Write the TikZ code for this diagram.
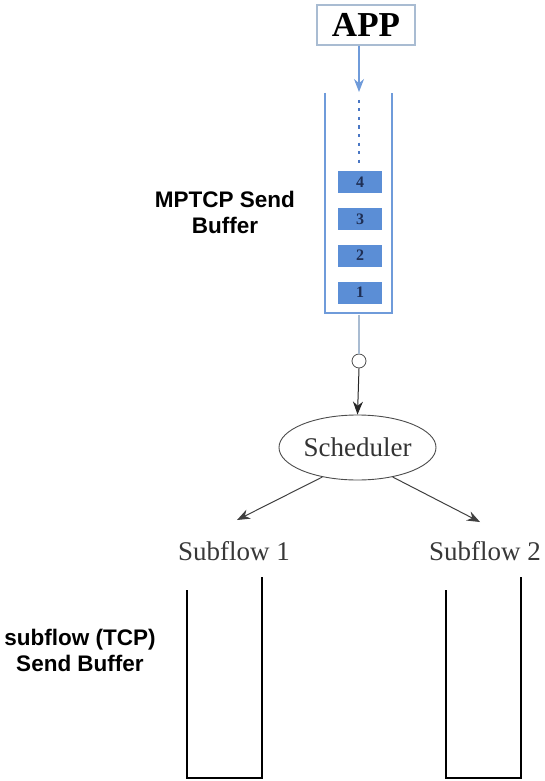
\documentclass[tikz,border=0pt]{standalone}
\usepackage{fontspec}
\setmainfont{Liberation Serif}
\newfontfamily\labelfont{Liberation Sans}
\usetikzlibrary{shapes.geometric, arrows.meta}
\definecolor{bufblu}{HTML}{6F9BDA}
\definecolor{bloccoblu}{HTML}{5B8ED6}
\definecolor{grigioblu}{HTML}{A9BCD2}
\definecolor{puntini}{HTML}{4A77C4}
\definecolor{testoblu}{HTML}{1F2F55}

\begin{document}
\begin{tikzpicture}[x=1pt, y=-1pt, >={Stealth[length=13pt, width=10pt]},
    blocco/.style={rectangle, fill=bloccoblu, minimum width=44pt, minimum height=22pt,
        inner sep=0pt, text=testoblu, font=\bfseries\fontsize{16}{16}\selectfont},
    etichetta/.style={align=center, font=\labelfont\bfseries\fontsize{22.5}{26}\selectfont},
    flusso/.style={anchor=base, inner sep=0pt, text=black!78, font=\fontsize{27}{27}\selectfont}]
    \useasboundingbox (0,0) rectangle (544,781);

    % Applicazione in alto
    \node[draw=grigioblu, line width=1.2pt, minimum width=98pt, minimum height=40pt,
        inner sep=0pt, font=\bfseries\fontsize{35}{35}\selectfont] (app) at (366,25) {APP};
    \coordinate (bufftop) at (359,92);
    \draw[->, bufblu, line width=1.2pt] (app.south -| bufftop) -- (bufftop);

    % Buffer di invio MPTCP
    \draw[bufblu, line width=2.6pt] (325,93) -- (325,313) -- (392,313) -- (392,93);
    \draw[puntini, line width=2.6pt, dash pattern=on 3pt off 5.5pt] (359,100) -- (359,165);

    % Segmenti nel buffer
    \node[blocco] (b4) at (360,182) {4};
    \node[blocco] (b3) at (360,219) {3};
    \node[blocco] (b2) at (360,255.5) {2};
    \node[blocco] (b1) at (360,292.5) {1};

    \node[etichetta] (mptcp) at (225,212) {MPTCP Send\\Buffer};

    % Punto di uscita e scheduler
    \coordinate (buffbot) at (359,314.5);
    \node[circle, draw=black!70, line width=0.8pt, minimum size=14pt, inner sep=0pt] (joint) at (359,361) {};
    \draw[grigioblu, line width=1.2pt] (buffbot) -- (joint.north);
    \node[ellipse, draw=black!70, line width=0.9pt, minimum width=157pt, minimum height=65pt,
        inner sep=0pt, text=black!80, font=\fontsize{27}{27}\selectfont] (sched) at (357.5,447.5) {Scheduler};
    \draw[->, black!85, line width=1pt] (joint.south) -- (sched.north);

    % Sottoflussi
    \node[flusso] (sf1) at (234,560) {Subflow 1};
    \node[flusso] (sf2) at (485,560) {Subflow 2};
    \coordinate (sf1in) at (237,520);
    \coordinate (sf2in) at (480,522);
    \draw[->, black!75, line width=1pt] (sched.220) -- (sf1in);
    \draw[->, black!75, line width=1pt] (sched.-40) -- (sf2in);

    % Buffer di invio dei sottoflussi (TCP)
    \draw[line width=2pt] (187,590) -- (187,778) -- (262,778) -- (262,577);
    \draw[line width=2pt] (446,590) -- (446,778) -- (521,778) -- (521,577);

    \node[etichetta] (tcp) at (80,650) {subflow (TCP)\\Send Buffer};
\end{tikzpicture}
\end{document}
